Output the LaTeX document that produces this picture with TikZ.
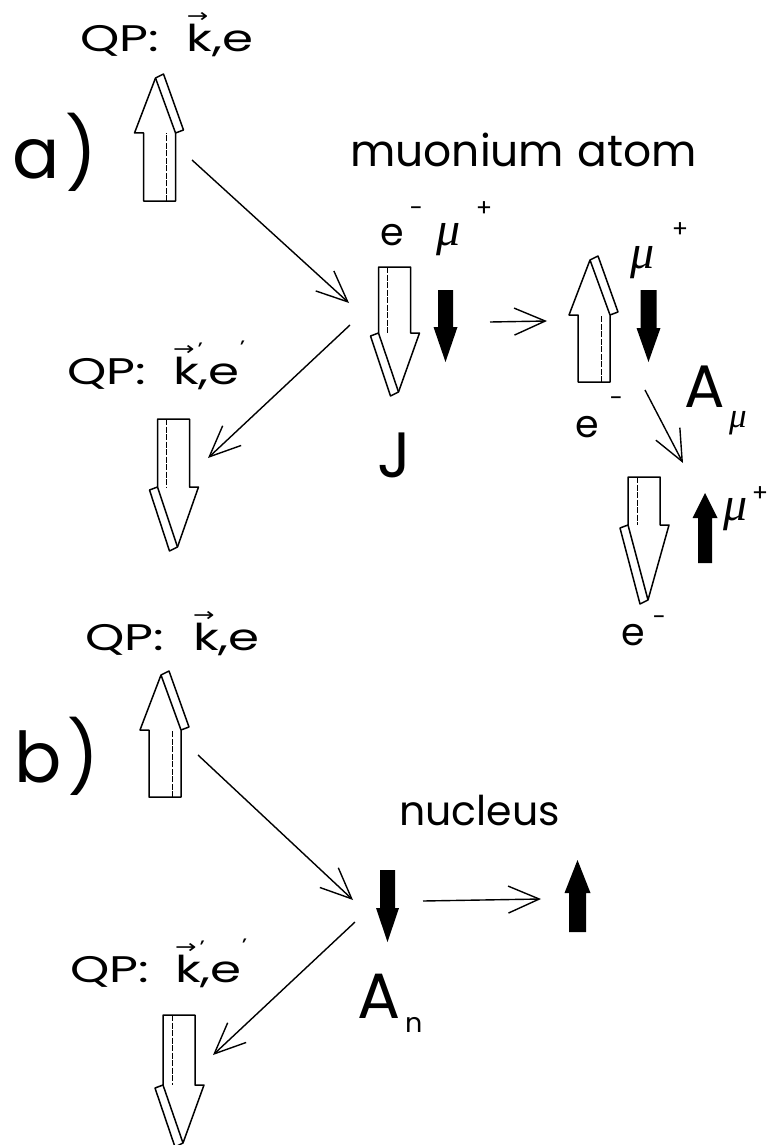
\documentclass[tikz,border=0pt]{standalone}
\usepackage{graphicx}
\usepackage{fontspec}
\setmainfont{Poppins}
\newfontfamily\mufont{Liberation Serif}
\newfontfamily\symfont{DejaVu Sans}
\usetikzlibrary{arrows.meta}

\newcommand\fs[1]{\fontsize{#1}{#1}\selectfont}
\newcommand\vk{\makebox[0pt][l]{\raisebox{29pt}{\fs{19}\symfont →}}k}
\newcommand\pr{\makebox[0pt][l]{\hspace{-1pt}\raisebox{29pt}{\fs{18}'}}}
\newcommand\epr{\makebox[0pt][l]{\raisebox{31pt}{\fs{18}'}}}
\newcommand\muu{{\mufont\itshape μ}}
\newcommand\qplabel[3]{\fs{37}\scalebox{1.35}[1]{\makebox[#1pt][l]{QP:}\vk#2,e#3}}

% hollow (outlined, bevelled) spin arrow: x, y of tail centre, angle, shaft length, head length
\newcommand\harrow[5]{%
 \begin{scope}[shift={(#1,#2)},rotate=#3]
  \draw[hollowline] (-16,0) -- (-16,{-#4}) -- (-25,{-#4}) -- (-4,{-#4-#5}) -- (4,{-#4-#5-4}) -- (24,{-#4-3}) -- (16,{-#4}) -- (16,0) -- cycle;
  \draw[hollowline] (-4,{-#4-#5}) -- (16,{-#4});
  \draw[innerline] (7,0) -- (7,{-#4});
 \end{scope}}
% filled spin arrow: x, y of tail centre, angle, shaft length, head length, half shaft, half head
\newcommand\barrow[7]{%
 \begin{scope}[shift={(#1,#2)},rotate=#3]
  \fill[black] ({-#6},0) -- ({-#6},{-#4}) -- ({-#7},{-#4}) -- (0,{-#4-#5}) -- (#7,{-#4}) -- (#6,{-#4}) -- (#6,0) -- cycle;
 \end{scope}}

\begin{document}
\begin{tikzpicture}[x=1pt,y=-1pt,
  hollowline/.style={line width=1.5pt, line join=round, fill=white},
  innerline/.style={line width=0.6pt, dash pattern=on 6pt off 1.5pt},
  conn/.style={line width=1.4pt, -{Straight Barb[length=31pt,width=27pt]}},
  lbl/.style={inner sep=0pt, anchor=base west},
  sgn/.style={inner sep=0pt, anchor=base}]
\fill[white] (0,0) rectangle (769,1145);
\useasboundingbox (0,0) rectangle (769,1145);

% ---------- part a ----------
\node[lbl] (qpa1) at (80,52) {\qplabel{79}{}{}};
\node[lbl] (alab) at (12,178) {\fs{70}a\hspace{6pt})};
\harrow{159.5}{201}{0}{68}{55}
\node[lbl] (qpa2) at (67,384) {\qplabel{78.5}{\pr}{\epr}};
\harrow{173.5}{419}{180}{68}{60}

\node[lbl] (mu) at (350,166) {\fs{44}muonium\hspace{13pt}atom};
\node[lbl] (e1) at (380,245) {\fs{38}e};
\node[sgn] (e1s) at (416,216) {\fs{24}−};
\node[lbl] (m1) at (436,245) {\fs{48}\muu};
\node[sgn] (m1s) at (484,216) {\fs{24}+};
\harrow{394.5}{267}{180}{66}{59}
\barrow{445.5}{290}{180}{37}{35}{7.5}{12}
\node[lbl] (J) at (377,477) {\fs{64}J};

\harrow{594}{382}{0}{67}{55}
\barrow{648.5}{290}{180}{38}{34}{8}{12}
\node[lbl] (m2) at (630,268) {\fs{48}\muu};
\node[sgn] (m2s) at (680,237) {\fs{24}+};
\node[lbl] (e2) at (575,437) {\fs{38}e};
\node[sgn] (e2s) at (616,406) {\fs{24}−};
\node[lbl] (A1) at (684,407) {\fs{60}A};
\node[lbl] (A1s) at (729,427) {\fs{35}\muu};

\harrow{644}{477}{180}{48}{75}
\barrow{705}{563}{0}{45}{25}{7}{12.5}
\node[lbl] (m3) at (723,520) {\fs{48}\muu};
\node[sgn] (m3s) at (760,501) {\fs{24}+};
\node[lbl] (e3) at (621,645) {\fs{38}e};
\node[sgn] (e3s) at (659,625) {\fs{24}−};

\coordinate (c1s) at (192,160);  \coordinate (c1e) at (349,303);
\coordinate (c2s) at (350,325);  \coordinate (c2e) at (208,458);
\coordinate (c3s) at (490,322);  \coordinate (c3e) at (547,321);
\coordinate (c4s) at (645,390);  \coordinate (c4e) at (683,463);
\draw[conn] (c1s) -- (c1e);
\draw[conn] (c2s) -- (c2e);
\draw[conn] (c3s) -- (c3e);
\draw[conn] (c4s) -- (c4e);

% ---------- part b ----------
\node[lbl] (qpb1) at (85,650) {\qplabel{80}{}{}};
\node[lbl] (blab) at (14,782) {\fs{70}b\hspace{6pt})};
\harrow{165}{797}{0}{67}{55}
\node[lbl] (qpb2) at (70,982) {\qplabel{77.8}{\pr}{\epr}};
\harrow{179}{1015}{180}{70}{58}

\node[lbl] (nuc) at (399,825) {\fs{41}nucleus};
\barrow{387.5}{870}{180}{38}{34}{7.5}{11.5}
\barrow{577.5}{932}{0}{39}{33}{8.5}{13}
\node[lbl] (An) at (357,1018) {\fs{64}A};
\node[lbl] (Ans) at (405,1032) {\fs{27}n};

\coordinate (c5s) at (198,755);  \coordinate (c5e) at (353,900);
\coordinate (c6s) at (355,922);  \coordinate (c6e) at (213,1055);
\coordinate (c7s) at (423,901);  \coordinate (c7e) at (541,899);
\draw[conn] (c5s) -- (c5e);
\draw[conn] (c6s) -- (c6e);
\draw[conn] (c7s) -- (c7e);
\end{tikzpicture}
\end{document}
